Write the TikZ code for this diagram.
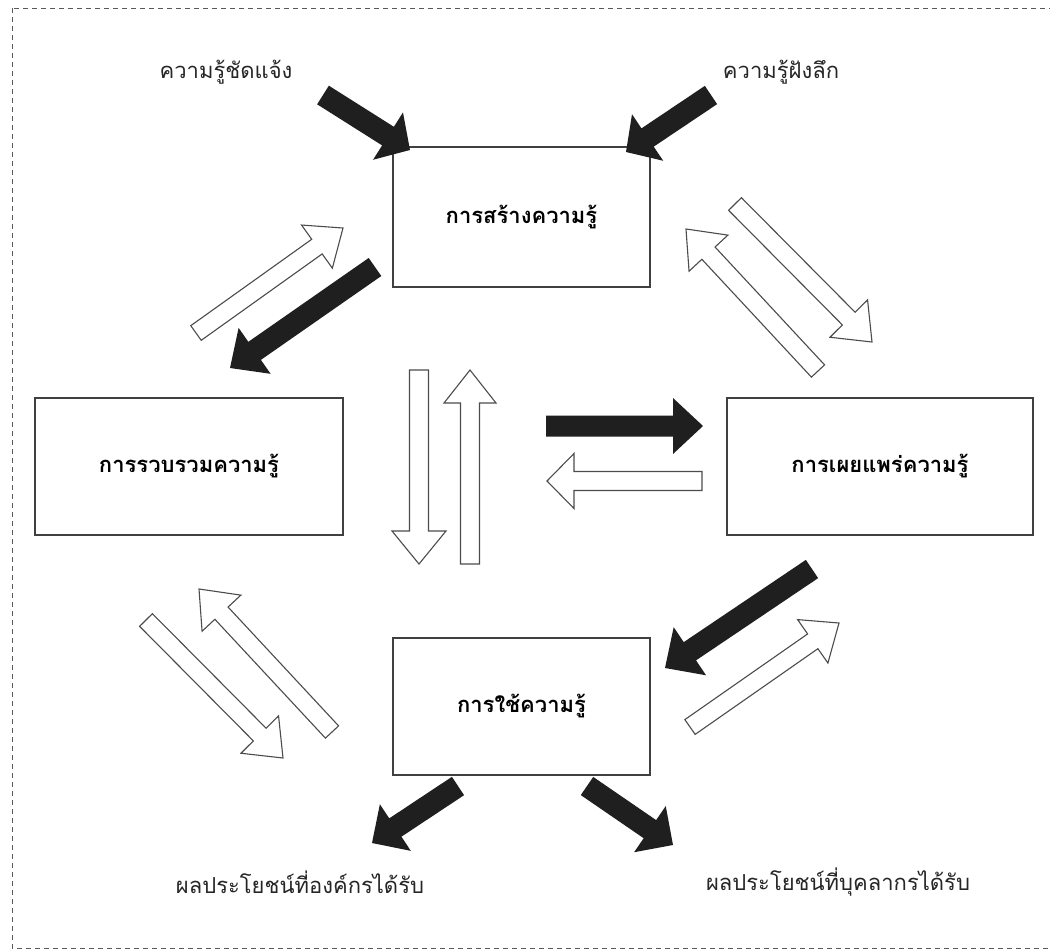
\documentclass[tikz,border=0pt]{standalone}
\usepackage{fontspec}
\newfontfamily\thaifont[Script=Thai]{Loma}
\usetikzlibrary{calc}
\tikzset{
  box/.style={draw=black!75, line width=1.1pt, fill=white, inner sep=0pt},
  lbl/.style={font=\thaifont\fontsize{22}{26}\selectfont, text=black!85, inner sep=0pt},
  blbl/.style={font=\thaifont\bfseries\fontsize{22}{26}\selectfont, text=black, inner sep=0pt},
  solidarrow/.style={fill=black!88, draw=none},
  hollowarrow/.style={fill=white, draw=black!70, line width=1.1pt, line join=miter},
  frameline/.style={draw=black!65, line width=0.8pt, dash pattern=on 5pt off 4pt},
}
% #1 style, (#2,#3) tail centre, (#4,#5) tip, #6 shaft width, #7 head width, #8 head length
\newcommand{\blockarr}[8]{%
  \pgfmathsetmacro{\bL}{veclen(#4-#2,#5-#3)}%
  \pgfmathsetmacro{\bA}{atan2(-(#5-#3),#4-#2)}%
  \pgfmathsetmacro{\bB}{\bL-#8}%
  \begin{scope}[shift={(#2,#3)}, rotate=\bA]
    \path[#1] (0,-#6/2) -- (\bB,-#6/2) -- (\bB,-#7/2) -- (\bL,0) -- (\bB,#7/2) -- (\bB,#6/2) -- (0,#6/2) -- cycle;
  \end{scope}}
\begin{document}
\begin{tikzpicture}[x=1pt, y=-1pt]
\useasboundingbox (0,0) rectangle (1050,952);
\fill[white] (0,0) rectangle (1050,952);
\draw[frameline] (12,8) rectangle (1060,948);

% boxes
\node[box, minimum width=257pt, minimum height=140pt] (create) at (521.5,217) {};
\node[box, minimum width=308pt, minimum height=137pt] (collect) at (189,466.5) {};
\node[box, minimum width=306pt, minimum height=137pt] (spread) at (880,466.5) {};
\node[box, minimum width=257pt, minimum height=137pt] (use) at (521.5,706.5) {};

\node[blbl] (createtxt) at (create.center) {การสร้างความรู้};
\node[blbl] (collecttxt) at (collect.center) {การรวบรวมความรู้};
\node[blbl] (spreadtxt) at (spread.center) {การเผยแพร่ความรู้};
\node[blbl] (usetxt) at (use.center) {การใช้ความรู้};

% outer labels
\node[lbl] (explicit) at (226,72) {ความรู้ชัดแจ้ง};
\node[lbl] (tacit) at (781,72) {ความรู้ฝังลึก};
\node[lbl] (orgben) at (300,882) {ผลประโยชน์ที่องค์กรได้รับ};
\node[lbl] (perben) at (838,882) {ผลประโยชน์ที่บุคลากรได้รับ};

% top inputs
\blockarr{solidarrow}{323}{95}{410}{150}{22}{56}{26}
\blockarr{solidarrow}{711}{95}{626}{152}{22}{56}{26}

% top-left pair
\blockarr{hollowarrow}{196}{333}{343}{228}{18}{53}{32}
\blockarr{solidarrow}{375}{267}{230}{368}{22}{56}{30}

% top-right pair
\blockarr{hollowarrow}{735}{204}{872}{342}{18}{53}{33}
\blockarr{hollowarrow}{818}{371}{686}{229}{18}{53}{33}

% centre vertical pair
\blockarr{hollowarrow}{419}{370}{419}{564}{19}{54}{33}
\blockarr{hollowarrow}{470}{564}{470}{370}{19}{52}{33}

% centre horizontal pair
\blockarr{solidarrow}{546}{426}{703}{426}{21}{56}{30}
\blockarr{hollowarrow}{702}{481}{547}{481}{19}{55}{27}

% bottom-left pair
\blockarr{hollowarrow}{146}{620}{283}{758}{18}{53}{33}
\blockarr{hollowarrow}{332}{732}{199}{589}{18}{53}{33}

% bottom-right pair
\blockarr{solidarrow}{812}{569}{665}{668}{22}{58}{30}
\blockarr{hollowarrow}{690}{727}{839}{623}{18}{53}{32}

% outputs
\blockarr{solidarrow}{458}{786}{372}{843}{22}{56}{28}
\blockarr{solidarrow}{587}{786}{673}{845}{22}{56}{28}
\end{tikzpicture}
\end{document}
